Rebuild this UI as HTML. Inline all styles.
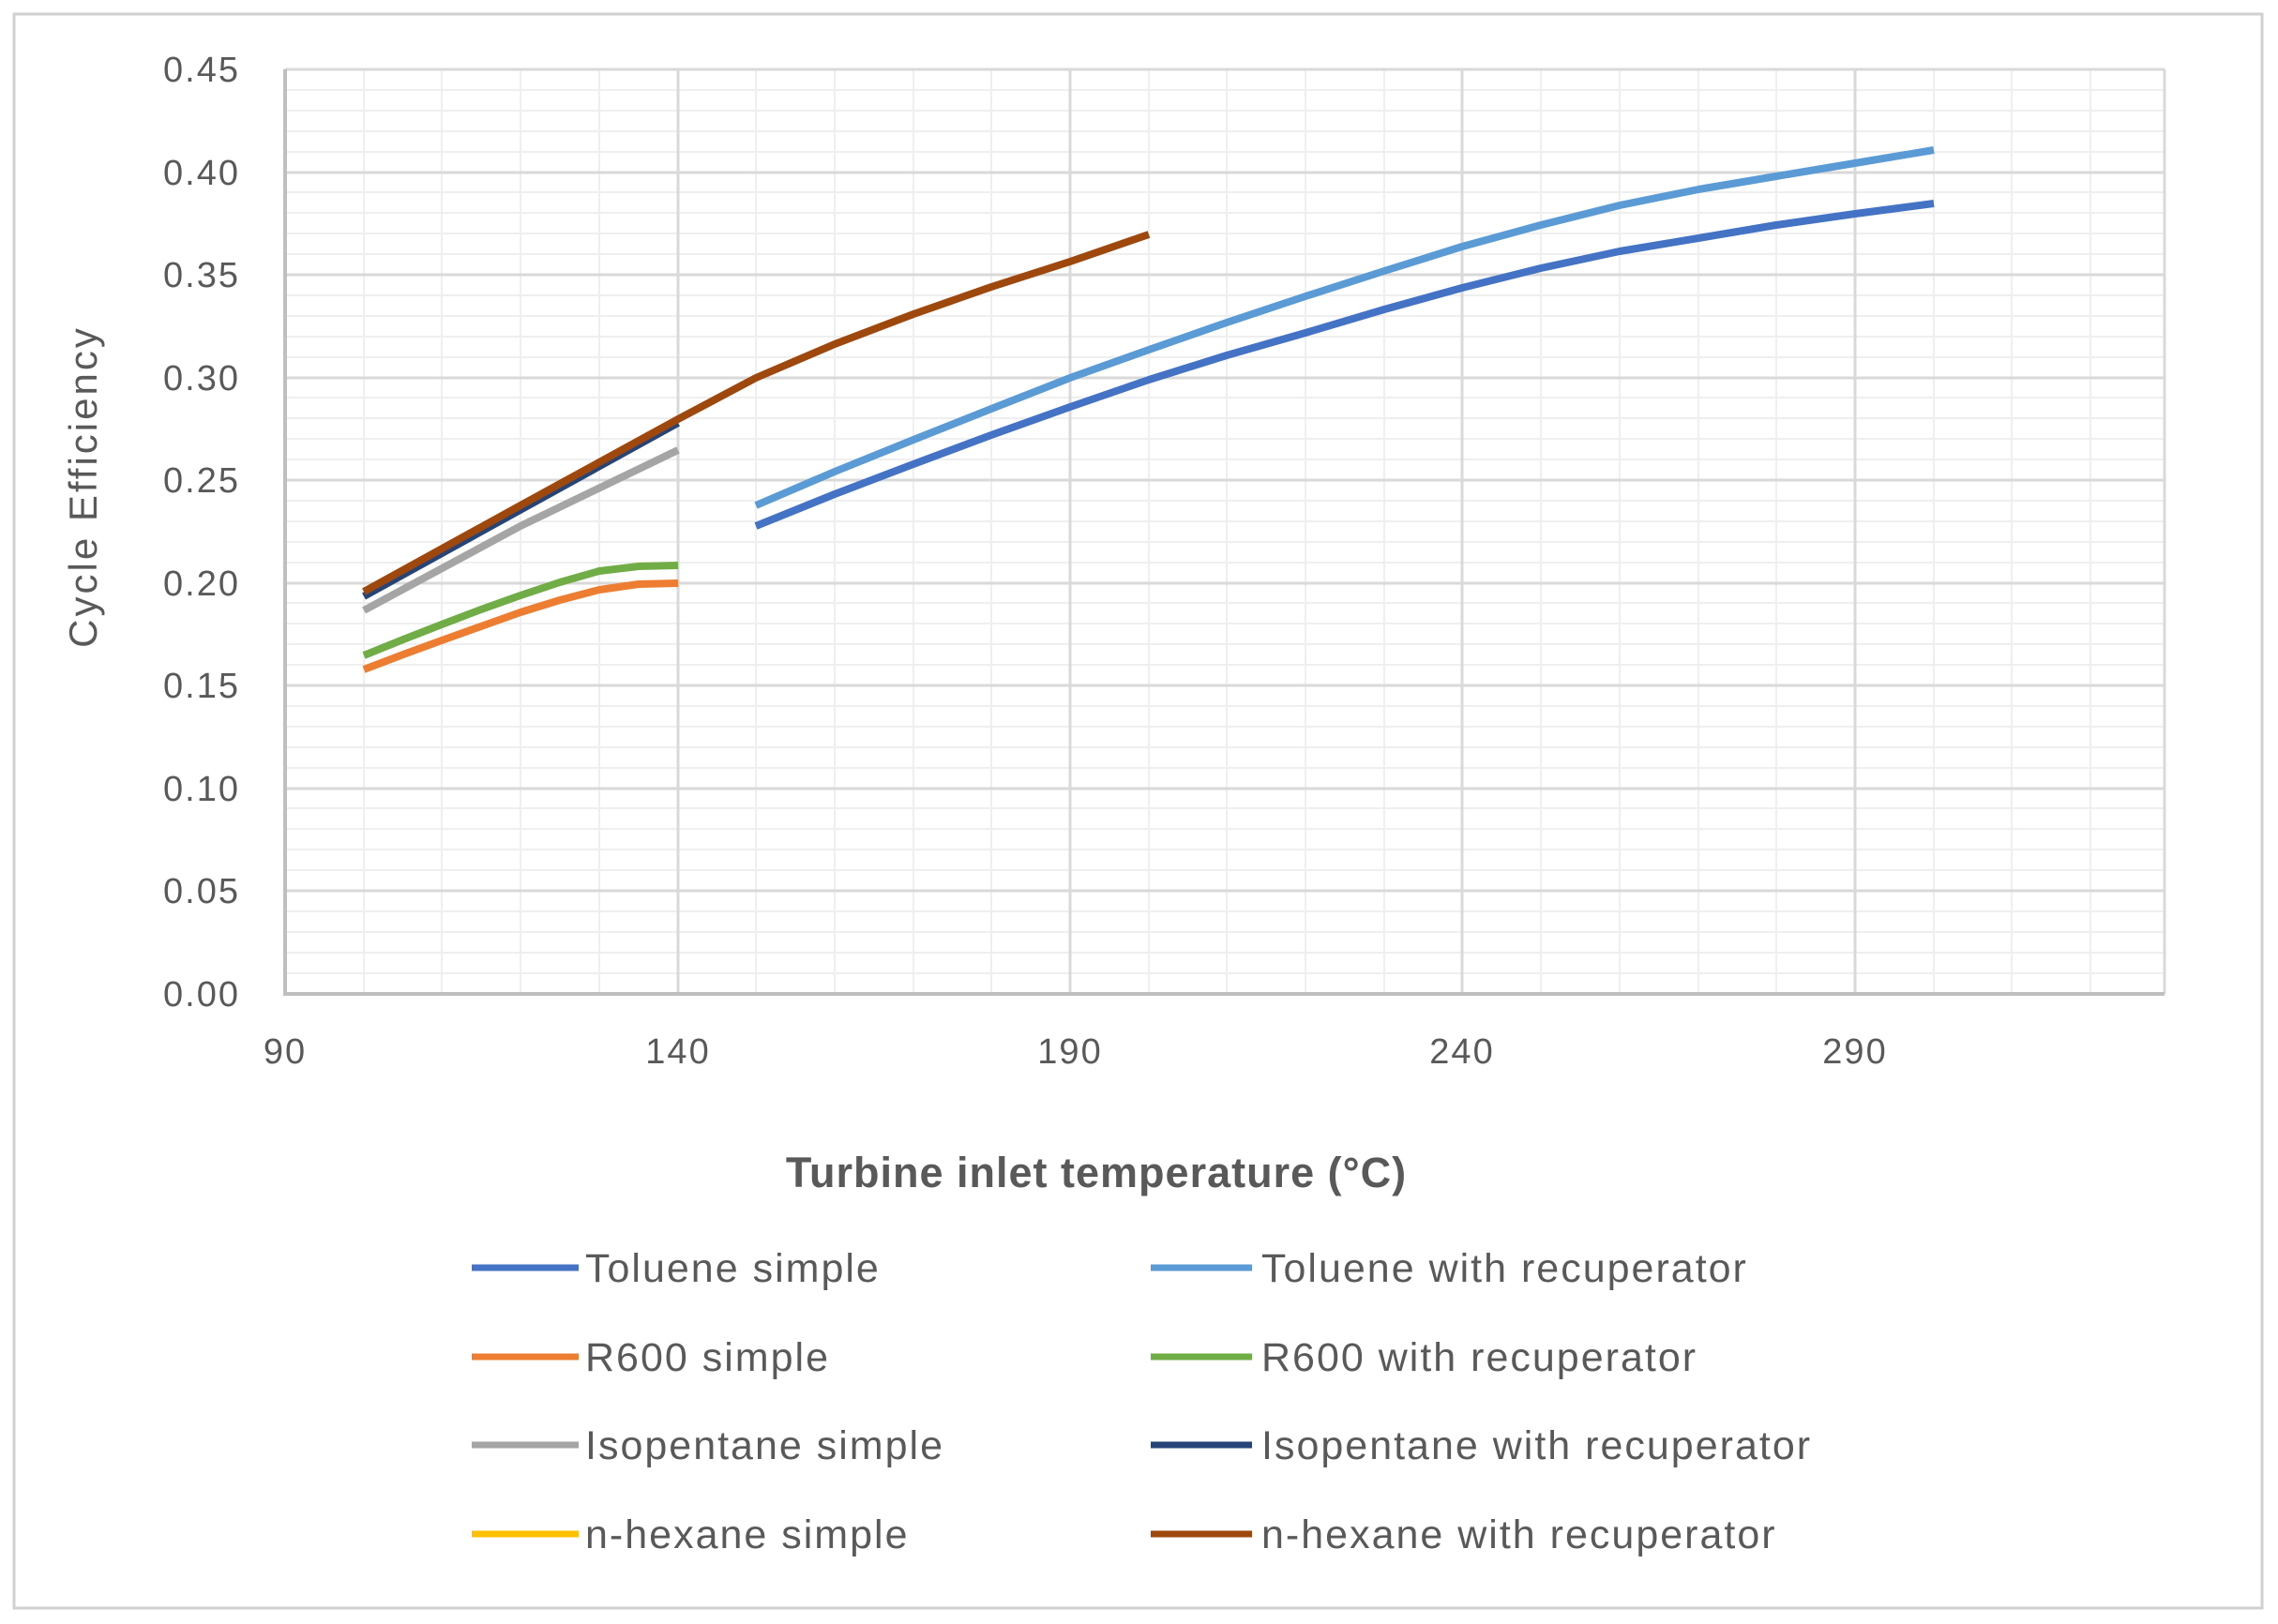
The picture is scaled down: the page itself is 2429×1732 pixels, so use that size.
<!DOCTYPE html>
<html><head><meta charset="utf-8"><style>body{margin:0;background:#fff}svg{display:block}</style></head><body>
<svg width="2429" height="1732" viewBox="0 0 2429 1732" xmlns="http://www.w3.org/2000/svg" font-family="Liberation Sans, sans-serif">
<rect x="0" y="0" width="2429" height="1732" fill="#fff"/>
<rect x="15" y="15" width="2397" height="1700" fill="none" stroke="#d0d0d0" stroke-width="3"/>
<g stroke="#efefef" stroke-width="2">
<path d="M304 96H2308M304 118H2308M304 140H2308M304 162H2308M304 205H2308M304 227H2308M304 249H2308M304 271H2308M304 315H2308M304 337H2308M304 359H2308M304 381H2308M304 424H2308M304 446H2308M304 468H2308M304 490H2308M304 534H2308M304 556H2308M304 578H2308M304 600H2308M304 643H2308M304 665H2308M304 687H2308M304 709H2308M304 753H2308M304 775H2308M304 797H2308M304 819H2308M304 862H2308M304 884H2308M304 906H2308M304 928H2308M304 972H2308M304 994H2308M304 1016H2308M304 1038H2308"/>
<path d="M388 74V1060M471 74V1060M555 74V1060M639 74V1060M806 74V1060M890 74V1060M974 74V1060M1057 74V1060M1225 74V1060M1308 74V1060M1392 74V1060M1476 74V1060M1643 74V1060M1727 74V1060M1811 74V1060M1894 74V1060M2062 74V1060M2145 74V1060M2229 74V1060"/>
</g>
<g stroke="#d9d9d9" stroke-width="3">
<path d="M304 74H2308M304 184H2308M304 293H2308M304 403H2308M304 512H2308M304 622H2308M304 731H2308M304 841H2308M304 950H2308"/>
<path d="M723 74V1060M1141 74V1060M1559 74V1060M1978 74V1060M2308 74V1060"/>
</g>
<path d="M304 74V1060H2308" fill="none" stroke="#bfbfbf" stroke-width="4"/>
<g font-size="38" fill="#595959" text-anchor="end" letter-spacing="2">
<text x="256" y="87">0.45</text><text x="256" y="197">0.40</text><text x="256" y="306">0.35</text><text x="256" y="416">0.30</text><text x="256" y="525">0.25</text><text x="256" y="635">0.20</text><text x="256" y="744">0.15</text><text x="256" y="854">0.10</text><text x="256" y="963">0.05</text><text x="256" y="1073">0.00</text>
</g>
<g font-size="38" fill="#595959" text-anchor="middle" letter-spacing="2">
<text x="304" y="1134">90</text><text x="723" y="1134">140</text><text x="1141" y="1134">190</text><text x="1559" y="1134">240</text><text x="1978" y="1134">290</text>
</g>
<text transform="translate(103,519) rotate(-90)" font-size="42" fill="#595959" text-anchor="middle" letter-spacing="3">Cycle Efficiency</text>
<text x="1169" y="1266" font-size="45" font-weight="bold" fill="#595959" text-anchor="middle" letter-spacing="1">Turbine inlet temperature (°C)</text>
<g fill="none" stroke-width="8" stroke-linejoin="round" stroke-linecap="butt">
<polyline stroke="#4472C4" points="806,561 890,527 974,495 1057,464 1141,434 1225,405 1308,379 1392,355 1476,330 1559,307 1643,286 1727,268 1811,254 1894,240 1978,228 2062,217"/>
<polyline stroke="#5B9BD5" points="806,539 890,503 974,469 1057,436 1141,403 1225,373 1308,344 1392,316 1476,289 1559,263 1643,240 1727,219 1811,202 1894,188 1978,174 2062,160"/>
<polyline stroke="#ED7D31" points="388,714 430,698 471,683 513,668 555,653 597,640 639,629 681,623 723,622"/>
<polyline stroke="#70AD47" points="388,699 430,682 471,666 513,650 555,635 597,621 639,609 681,604 723,603"/>
<polyline stroke="#A5A5A5" points="388,651 555,561 723,480"/>
<polyline stroke="#264478" points="388,636 723,451"/>
<polyline stroke="#9E480E" points="388,631 555,539 723,447 806,403 890,367 974,335 1057,306 1141,279 1225,250"/>
</g>
<g stroke-width="7">
<line x1="503" y1="1352" x2="617" y2="1352" stroke="#4472C4"/>
<line x1="1227" y1="1352" x2="1335" y2="1352" stroke="#5B9BD5"/>
<line x1="503" y1="1447" x2="617" y2="1447" stroke="#ED7D31"/>
<line x1="1227" y1="1447" x2="1335" y2="1447" stroke="#70AD47"/>
<line x1="503" y1="1541" x2="617" y2="1541" stroke="#A5A5A5"/>
<line x1="1227" y1="1541" x2="1335" y2="1541" stroke="#264478"/>
<line x1="503" y1="1636" x2="617" y2="1636" stroke="#FFC000"/>
<line x1="1227" y1="1636" x2="1335" y2="1636" stroke="#9E480E"/>
</g>
<g font-size="43" fill="#595959" letter-spacing="2">
<text x="624" y="1367">Toluene simple</text>
<text x="1345" y="1367">Toluene with recuperator</text>
<text x="624" y="1462">R600 simple</text>
<text x="1345" y="1462">R600 with recuperator</text>
<text x="624" y="1556">Isopentane simple</text>
<text x="1345" y="1556">Isopentane with recuperator</text>
<text x="624" y="1651">n-hexane simple</text>
<text x="1345" y="1651">n-hexane with recuperator</text>
</g>
</svg>
</body></html>
